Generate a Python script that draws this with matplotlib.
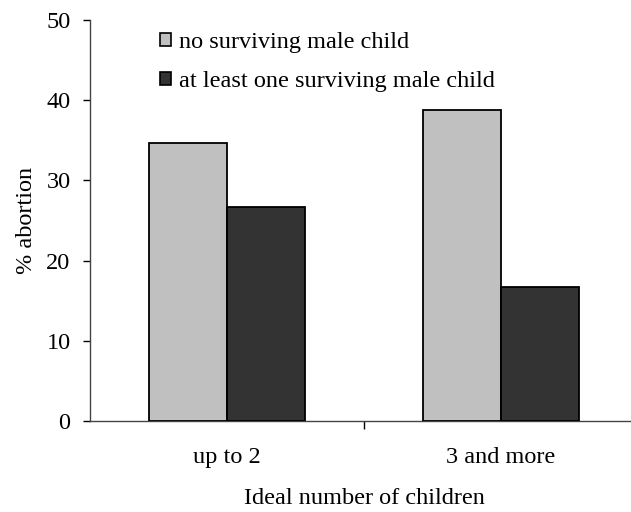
import matplotlib.pyplot as plt
import matplotlib as mpl
from matplotlib.patches import Patch

# ======================================================
# Plot settings
# ======================================================
mpl.rcParams['font.family'] = ['Liberation Serif', 'DejaVu Serif']
mpl.rcParams['font.size'] = 17.5

# ======================================================
# Data
# ======================================================
categories = ["up to 2", "3 and more"]
no_male = [34.7, 38.8]
male = [26.7, 16.7]
series_labels = ["no surviving male child", "at least one surviving male child"]
y_ticks = [0, 10, 20, 30, 40, 50]

LIGHT = "#c0c0c0"
DARK = "#333333"
W = 0.285

fig = plt.figure(figsize=(6.31, 5.12), dpi=100)
ax = fig.add_axes([90 / 631, 91 / 512, 548 / 631, 401 / 512])

x = list(range(len(categories)))
ax.bar([i - W / 2 for i in x], no_male, width=W, color=LIGHT,
       edgecolor="black", linewidth=1.3, zorder=3)
ax.bar([i + W / 2 for i in x], male, width=W, color=DARK,
       edgecolor="black", linewidth=1.3, zorder=3)

ax.set_xlim(-0.5, 1.5)
ax.set_ylim(0, 50)
ax.set_yticks(y_ticks)
ax.set_xticks([0.5, 1.5])
ax.set_xticklabels([])
ax.set_xticks(x, minor=True)
ax.set_xticklabels(categories, minor=True)
ax.tick_params(axis="x", which="minor", length=0, pad=19)
ax.tick_params(axis="x", which="major", length=6, width=1, direction="out")
ax.tick_params(axis="y", length=5, width=1, direction="out", pad=9)

for s in ["top", "right"]:
    ax.spines[s].set_visible(False)
for s in ["left", "bottom"]:
    ax.spines[s].set_color("#444444")
    ax.spines[s].set_linewidth(1)

ax.set_ylabel("% abortion", labelpad=7)
ax.set_xlabel("Ideal number of children", labelpad=14)

handles = [Patch(facecolor=LIGHT, edgecolor="black", linewidth=1.2),
           Patch(facecolor=DARK, edgecolor="black", linewidth=1.2)]
ax.legend(handles, series_labels, loc="upper left",
          bbox_to_anchor=(60 / 548, 0.995), frameon=False,
          handlelength=0.45, handleheight=0.45, handletextpad=0.35,
          labelspacing=0.75, borderaxespad=0)

plt.savefig("out.png", dpi=100)
plt.close()
